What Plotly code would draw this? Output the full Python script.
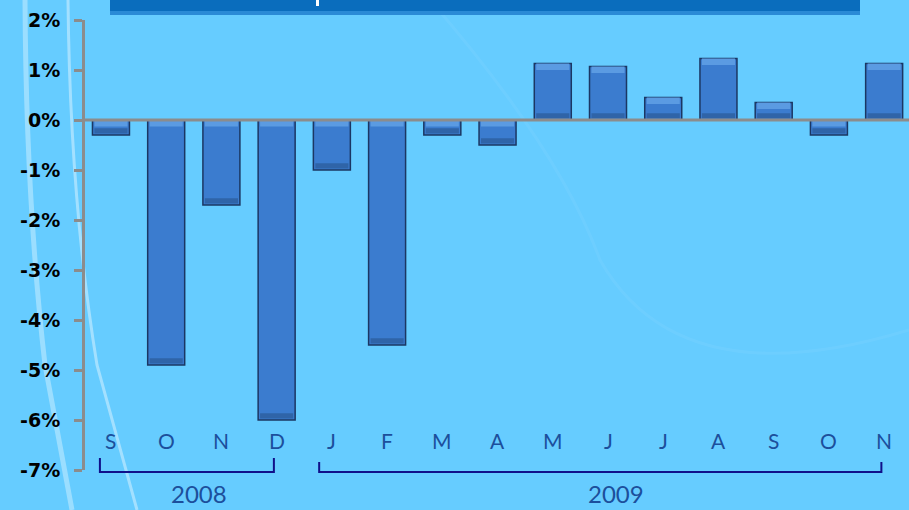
import plotly.graph_objects as go

months = ["S", "O", "N", "D", "J", "F", "M", "A", "M", "J", "J", "A", "S", "O", "N"]
values = [-0.3, -4.9, -1.7, -6.0, -1.0, -4.5, -0.3, -0.5, 1.13, 1.07, 0.45, 1.23, 0.35, -0.3, 1.13]
ytick_vals = [2, 1, 0, -1, -2, -3, -4, -5, -6, -7]
ytick_text = ["2%", "1%", "0%", "-1%", "-2%", "-3%", "-4%", "-5%", "-6%", "-7%"]
years = ["2008", "2009"]
year_spans = [(-0.2, 2.95), (3.77, 13.95)]
year_label_x = [1.6, 9.14]

xs = list(range(len(months)))
bevel = 0.13

fig = go.Figure()
fig.add_trace(go.Bar(
    x=xs, y=values, width=0.67,
    marker=dict(color="#3b7ccf", line=dict(color="#1b3763", width=1.5)),
    hoverinfo="skip",
))
# top bevel highlight
fig.add_trace(go.Bar(
    x=xs, y=[bevel] * len(values), base=[max(v, 0) - bevel for v in values], width=0.6,
    marker=dict(color="#5b9be2", line=dict(width=0)), hoverinfo="skip",
))
# bottom bevel shade
fig.add_trace(go.Bar(
    x=xs, y=[bevel * 0.8] * len(values), base=[min(v, 0) + 0.03 for v in values], width=0.6,
    marker=dict(color="#2f64a8", line=dict(width=0)), hoverinfo="skip",
))

W, H = 909, 510
ml, mr, mt, mb = 85, 0, 20, 40
pw, ph = W - ml - mr, H - mt - mb

def px_x(p):
    return (p - ml) / pw

def px_y(p):
    return (H - mb - p) / ph

shapes = []
# background streaks
shapes.append(dict(type="path", xref="paper", yref="paper",
                   path=f"M {px_x(25)},{px_y(0)} Q {px_x(26)},{px_y(200)} {px_x(45)},{px_y(365)} L {px_x(72)},{px_y(510)}",
                   line=dict(color="rgba(255,255,255,0.35)", width=5), layer="below"))
shapes.append(dict(type="path", xref="paper", yref="paper",
                   path=f"M {px_x(68)},{px_y(0)} Q {px_x(70)},{px_y(200)} {px_x(97)},{px_y(365)} L {px_x(137)},{px_y(510)}",
                   line=dict(color="rgba(255,255,255,0.4)", width=3), layer="below"))
shapes.append(dict(type="path", xref="paper", yref="paper",
                   path=f"M {px_x(430)},{px_y(0)} Q {px_x(560)},{px_y(150)} {px_x(600)},{px_y(260)} Q {px_x(680)},{px_y(400)} {px_x(909)},{px_y(330)}",
                   line=dict(color="rgba(255,255,255,0.05)", width=3), layer="below"))
# title bar
shapes.append(dict(type="rect", xref="paper", yref="paper",
                   x0=px_x(110), x1=px_x(860), y0=px_y(15), y1=px_y(-2),
                   fillcolor="#2a8ad6", line=dict(width=0), layer="above"))
shapes.append(dict(type="rect", xref="paper", yref="paper",
                   x0=px_x(110), x1=px_x(860), y0=px_y(11), y1=px_y(-2),
                   fillcolor="#0a6dbd", line=dict(width=0), layer="above"))
shapes.append(dict(type="rect", xref="paper", yref="paper",
                   x0=px_x(316), x1=px_x(319), y0=px_y(6), y1=px_y(-2),
                   fillcolor="white", line=dict(width=0), layer="above"))
# zero line
shapes.append(dict(type="line", xref="paper", yref="y", x0=0, x1=1, y0=0, y1=0,
                   line=dict(color="#8c8c8c", width=3), layer="above"))
# year brackets
for (a, b), top in zip(year_spans, [458, 462]):
    shapes.append(dict(type="path", xref="x", yref="paper",
                       path=f"M {a},{px_y(top)} L {a},{px_y(472)} L {b},{px_y(472)} L {b},{px_y(top)}",
                       line=dict(color="#10108a", width=2), layer="above"))

annotations = []
for i, m in enumerate(months):
    annotations.append(dict(x=i, y=-6.4, xref="x", yref="y", text=m, showarrow=False,
                            yanchor="middle",
                            font=dict(family="Lato", size=21, color="#1c4f9c")))
for yr, x in zip(years, year_label_x):
    annotations.append(dict(x=x, y=px_y(494), xref="x", yref="paper", text=yr, showarrow=False,
                            yanchor="middle",
                            font=dict(family="Lato", size=24, color="#1c4f9c")))

fig.update_layout(
    width=W, height=H,
    margin=dict(l=ml, r=mr, t=mt, b=mb),
    paper_bgcolor="#66ccff", plot_bgcolor="rgba(0,0,0,0)",
    showlegend=False, shapes=shapes, annotations=annotations,
    barmode="overlay",
)
fig.update_xaxes(range=[-0.47, 14.45], showticklabels=False, showgrid=False,
                 zeroline=False, showline=False, ticks="")
fig.update_yaxes(range=[-7, 2], tickvals=ytick_vals, ticktext=ytick_text,
                 showgrid=False, zeroline=False, showline=True, linecolor="#8c8c8c", linewidth=3,
                 ticks="outside", ticklen=8, tickwidth=3, tickcolor="#8c8c8c",
                 ticklabelstandoff=10,
                 tickfont=dict(family="DejaVu Sans", size=19, color="black", weight="bold"))

fig.write_html("out.html")
